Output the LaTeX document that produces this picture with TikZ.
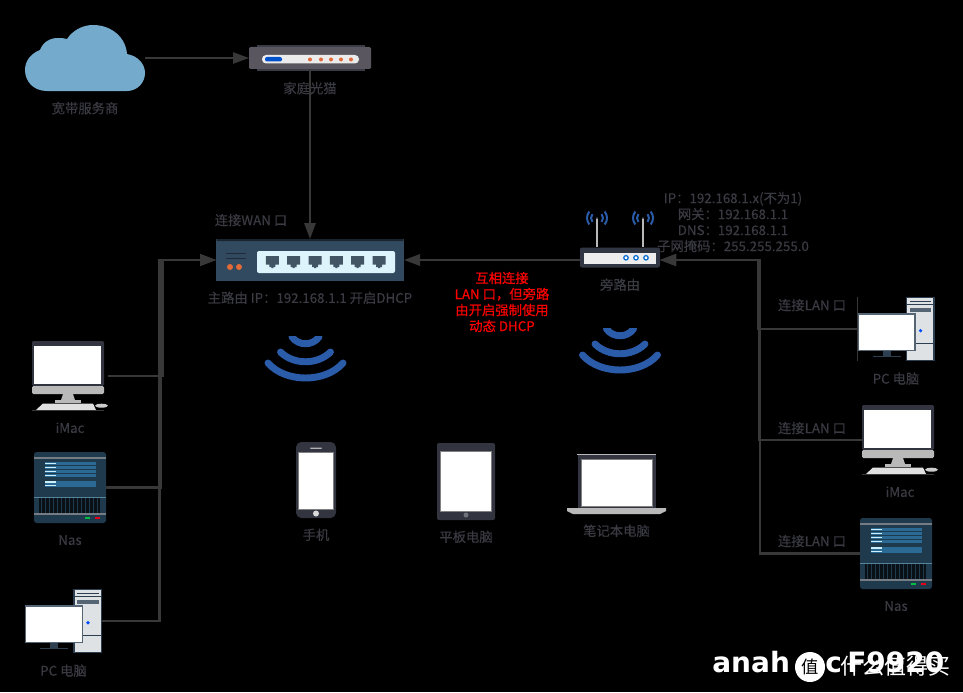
\documentclass[tikz,border=0pt]{standalone}
\usepackage{fontspec}
\setmainfont{Noto Sans CJK SC}[FakeBold=0.35]
\newfontfamily\markfont{DejaVu Sans}
\newfontfamily\markcjk{Noto Sans CJK SC}
\usetikzlibrary{positioning, arrows.meta}
\definecolor{wirecol}{HTML}{383838}
\definecolor{labelcol}{HTML}{3A3A42}
\definecolor{cloudcol}{HTML}{74ABCC}
\definecolor{wavecol}{HTML}{2A5CAA}
\definecolor{bezelcol}{HTML}{32353F}
\definecolor{silvercol}{HTML}{B9B9B9}
\definecolor{nascol}{HTML}{1F3A4C}
\definecolor{slatecol}{HTML}{2C3E50}
\definecolor{routercol}{HTML}{324A5F}
\definecolor{orangecol}{HTML}{E06A38}
\definecolor{modemcol}{HTML}{5A565F}
\definecolor{rowcol}{HTML}{2A6A94}
\tikzset{
    imacicon/.pic={
        \fill[bezelcol, rounded corners=1pt] (0,0) rectangle (72,45);
        \fill[white] (2,5) rectangle (69,42.5);
        \fill[silvercol, rounded corners=1pt] (0,45) rectangle (72,53);
        \fill[silvercol] (31,53) -- (41,53) -- (43,59) -- (29,59) -- cycle;
        \fill[silvercol] (23,59) rectangle (49,62);
        \fill[white!88!black] (11,62.5) -- (61,62.5) -- (64,69) -- (4,69) -- cycle;
        \fill[white!80!black] (69.5,64.7) ellipse (6.5 and 2);
        \draw[wirecol, line width=0.4pt] (0,69.7) -- (72,69.7);
    },
    nasicon/.pic={
        \fill[nascol, rounded corners=2pt] (0,0) rectangle (72,71);
        \fill[black!40!slatecol!60!white] (0,5) rectangle (72,6.5);
        \foreach \y in {10,14,18,22,28.5,32} {
            \fill[rowcol] (11,\y) rectangle (62,\y+3);
            \fill[white!80!cyan] (11,\y+0.9) rectangle (22,\y+2);
        }
        \fill[cyan!40!slatecol] (0,44.5) rectangle (72,45.2);
        \fill[black!70!nascol] (5,46) rectangle (66,61);
        \foreach \i in {0,...,14}
            \fill[nascol] (6.5+4*\i,46) rectangle (7.5+4*\i,61);
        \fill[black!40!slatecol!60!white] (0,61) rectangle (72,62.5);
        \fill[green!50!teal] (51,65.3) rectangle (56,67);
        \fill[red!60!purple] (61,65.3) rectangle (66,67);
    },
    pcicon/.pic={
        \fill[slatecol] (48,0) rectangle (77,64);
        \fill[white!85!slatecol] (49.5,1) rectangle (75.5,62.5);
        \fill[slatecol] (52.3,3.5) rectangle (73.7,5);
        \draw[slatecol, line width=0.6pt] (49.5,7.5) -- (75.5,7.5);
        \fill[slatecol!80!white] (52.3,11) rectangle (73.7,15);
        \draw[slatecol, line width=0.6pt] (49.5,46) -- (75.5,46);
        \fill[blue!70!cyan] (63,33.7) circle (1.8);
        \draw[slatecol!80!white, fill=white, line width=0.9pt] (0.5,17) rectangle (57.5,53.7);
        \fill[slatecol] (25,54) rectangle (33,58.5);
        \fill[slatecol] (15,58.5) rectangle (43,60);
    },
    antennawave/.pic={
        \foreach \r in {6,10} {
            \draw[wavecol, line width=1.5pt] ({\r*cos(40)},{-\r*sin(40)}) arc (-40:40:\r);
            \draw[wavecol, line width=1.5pt] ({-\r*cos(40)},{-\r*sin(40)}) arc (220:140:\r);
        }
        \fill[bezelcol] (0,0) circle (1.2);
    },
    wificon/.pic={
        \begin{scope}
        \clip (-45,-14) rectangle (45,32);
        \draw[wavecol, line width=5.2pt, line cap=round] (-37.5,13) .. controls (-20,33) and (20,33) .. (37.5,13);
        \draw[wavecol, line width=5.2pt, line cap=round] (-25,2) .. controls (-12,15) and (12,15) .. (25,2);
        \draw[wavecol, line width=5.2pt, line cap=round] (-13.5,-13) .. controls (-7,-4) and (7,-4) .. (13.5,-13);
        \end{scope}
    }
}
\begin{document}
\begin{tikzpicture}[
        x=0.75pt, y=-0.75pt,
        boxsize/.style 2 args={minimum width=#1*0.75pt, minimum height=#2*0.75pt, inner sep=0pt, outer sep=0pt},
        imacframe/.style={boxsize={76}{70}},
        nasframe/.style={boxsize={72}{71}},
        pcframe/.style={boxsize={77}{64}},
        devlabel/.style={text=labelcol, font=\fontsize{10pt}{12pt}\selectfont, inner sep=0pt, text height=9pt, text depth=2pt},
        infotext/.style={text=labelcol, font=\fontsize{10pt}{12pt}\selectfont, inner sep=0pt, align=center},
        warntext/.style={text=red, font=\fontsize{10pt}{12pt}\selectfont, inner sep=0pt, align=center},
        markname/.style={text=white, font=\markfont\bfseries\fontsize{21pt}{24pt}\selectfont, inner sep=0pt, anchor=base west},
        link/.style={-{Triangle[length=12pt,width=8.5pt]}, draw=wirecol, line width=1.1pt},
        linkb/.style={link, line width=1.6pt},
        linkc/.style={link, line width=2.2pt}
    ]
    \useasboundingbox (0,0) rectangle (963,692);
    \fill[black] (0,0) rectangle (963,692);

    % top row
    \node[boxsize={120}{66}] (cloud) at (85,58) {};
    \fill[cloudcol] (47,91) .. controls (33,91) and (25,81) .. (25,70)
        .. controls (25,60) and (32,53) .. (40,50)
        .. controls (43,42) and (50,38) .. (58,38)
        .. controls (61,38) and (64,38) .. (67,39)
        .. controls (73,30) and (83,25) .. (93,25)
        .. controls (112,25) and (126,38) .. (127,54)
        .. controls (138,56) and (145,64) .. (145,73)
        .. controls (145,83) and (137,91) .. (127,91) -- cycle;
    \node[boxsize={122}{22}, fill=modemcol, rounded corners=1pt] (modem) at (310,58) {};
    \fill[bezelcol!80!modemcol] (257,45.5) rectangle (365,47);
    \fill[bezelcol!80!modemcol] (257,69) rectangle (365,71);
    \fill[white!92!black, rounded corners=3pt] (262,55) rectangle (359,63.5);
    \fill[blue!60!cyan!80!black, rounded corners=1.5pt] (265,57) rectangle (282,61.5);
    \foreach \x in {310,321,331,341,351}
        \fill[orangecol] (\x,59.5) circle (2);
    \node[devlabel, below=9pt of modem] (modemlabel) {家庭光猫};
    \node[devlabel, below=7.5pt of cloud] (cloudlabel) {宽带服务商};

    % main router
    \node[boxsize={188}{42}, fill=routercol] (mainrouter) at (310,260) {};
    \fill[slatecol!60!black, rounded corners=1pt] (216,239) rectangle (404,241);
    \fill[white!87!cyan, rounded corners=1.5pt] (257,251) rectangle (395,273);
    \foreach \x in {272.3,293.7,315,336.3,357.7,379}
        \fill[routercol!80!gray] (\x-6.5,256) -- (\x+6.5,256) -- (\x+6.5,264.5) -- (\x+3,264.5)
            -- (\x+3,267) -- (\x+1,267) -- (\x+1,268) -- (\x-1,268) -- (\x-1,267) -- (\x-3,267) -- (\x-3,264.5) -- (\x-6.5,264.5) -- cycle;
    \draw[slatecol!70!black, line width=0.7pt] (226,253.5) -- (246,253.5);
    \draw[slatecol!70!black, line width=0.7pt] (226,258) -- (246,258);
    \fill[orangecol] (230,267) circle (3);
    \fill[orangecol] (239,267) circle (3);
    \node[devlabel, below=7.2pt of mainrouter] (mainlabel) {主路由 IP：192.168.1.1 开启DHCP};
    \node[devlabel] (wanlabel) at (251,220.5) {连接WAN 口};

    % side router
    \node[boxsize={80}{20}, fill=bezelcol!80!slatecol, rounded corners=1.5pt] (siderouter) at (620,257.5) {};
    \fill[white!93!black] (584,253) rectangle (656,263.5);
    \foreach \x in {626,636,646}
        \draw[blue!50!cyan!80!black, fill=white, line width=0.9pt] (\x,257.8) circle (2.2);
    \foreach \x in {597,643} {
        \draw[silvercol, line width=1.5pt] (\x,218) -- (\x,247);
        \pic at (\x,218) {antennawave};
    }
    \node[devlabel, below=7.5pt of siderouter] (sidelabel) {旁路由};
    \node[infotext] (sideinfo) at (733,222) {IP：192.168.1.x(不为1)\\网关：192.168.1.1\\DNS：192.168.1.1\\子网掩码：255.255.255.0};
    \node[warntext] (sidewarn) at (502,302) {互相连接\\LAN 口，但旁路\\由开启强制使用\\动态 DHCP};

    \pic at (305.5,350) {wificon};
    \pic at (620,342) {wificon};

    % left devices
    \node[imacframe] (leftimac) at (70,376) {};
    \pic at (leftimac.north west) {imacicon};
    \node[devlabel, below=7.2pt of leftimac] (leftimaclabel) {iMac};
    \node[nasframe] (leftnas) at (70,487.5) {};
    \pic at (leftnas.north west) {nasicon};
    \node[devlabel, below=7.2pt of leftnas] (leftnaslabel) {Nas};
    \node[pcframe] (leftpc) at (63.5,621) {};
    \pic at (leftpc.north west) {pcicon};
    \node[devlabel, below=7.8pt of leftpc] (leftpclabel) {PC 电脑};

    % right devices
    \node[pcframe] (rightpc) at (896,329) {};
    \pic at (rightpc.north west) {pcicon};
    \draw[wirecol, line width=0.4pt] (rightpc.north west) -- (rightpc.south west);
    \node[devlabel, below=7.8pt of rightpc] (rightpclabel) {PC 电脑};
    \node[imacframe] (rightimac) at (900,440) {};
    \pic at (rightimac.north west) {imacicon};
    \node[devlabel, below=7.2pt of rightimac] (rightimaclabel) {iMac};
    \node[nasframe] (rightnas) at (896,553.5) {};
    \pic at (rightnas.north west) {nasicon};
    \node[devlabel, below=7.2pt of rightnas] (rightnaslabel) {Nas};
    \node[devlabel] (lanlabela) at (812,305.5) {连接LAN 口};
    \node[devlabel] (lanlabelb) at (812,428.5) {连接LAN 口};
    \node[devlabel] (lanlabelc) at (812,541.5) {连接LAN 口};

    % wireless devices
    \node[boxsize={40}{76}, fill=bezelcol, rounded corners=4pt] (phone) at (316,480) {};
    \draw[gray, fill=white, line width=0.5pt] (298.5,452.5) rectangle (333.5,509);
    \fill[white!70!black, rounded corners=0.5pt] (310,447.5) rectangle (322,448.8);
    \fill[white!85!black] (316,513.5) circle (3);
    \node[devlabel, below=7.2pt of phone] (phonelabel) {手机};
    \node[boxsize={58}{77}, fill=bezelcol, rounded corners=1.5pt] (tablet) at (466,481.5) {};
    \draw[gray, fill=white, line width=0.5pt] (440.5,451.5) rectangle (491.5,511);
    \fill[bezelcol!70!white] (466,515) circle (2.5);
    \node[devlabel, below=7.2pt of tablet] (tabletlabel) {平板电脑};
    \node[boxsize={99}{60}] (laptop) at (616.5,484) {};
    \fill[bezelcol] (578,455) rectangle (656,509);
    \draw[silvercol, line width=0.5pt] (577,454.5) -- (656,454.5);
    \draw[gray, fill=white, line width=0.4pt] (581.5,459) rectangle (652,506);
    \fill[silvercol] (567,508) -- (666,508) -- (666,511) -- (660,514) -- (573,514) -- (567,511) -- cycle;
    \node[devlabel, below=7.2pt of laptop] (laptoplabel) {笔记本电脑};

    % connectors
    \coordinate (leftbusa) at (159.5,260);
    \coordinate (leftbusb) at (161,260);
    \coordinate (leftbusc) at (163,260);
    \coordinate (rightbusa) at (758.5,260);
    \coordinate (rightbusb) at (759,260);
    \coordinate (rightbusc) at (760,260);
    \draw[link] (cloud) -- (modem);
    \draw[linkb] (modem) -- (mainrouter);
    \draw[linkb] (siderouter.west |- mainrouter) -- (mainrouter.east);
    \draw[linkc] (leftpc.east) -| (leftbusa) -- (mainrouter.west);
    \draw[linkb] (leftnas.east) -| (leftbusb) -- (mainrouter.west);
    \draw[link] (leftimac.east) -| (leftbusc) -- (mainrouter.west);
    \draw[linkc] (rightpc.west) -| (rightbusa) -- (siderouter.east |- mainrouter);
    \draw[linkb] (rightimac.west) -| (rightbusb) -- (siderouter.east |- mainrouter);
    \draw[linkc] (rightnas.west) -| (rightbusc) -- (siderouter.east |- mainrouter);

    % watermark
    \node[markname] (markleft) at (712,672) {anah};
    \node[markname] (markmid) at (825,672) {c};
    \node[markname] (markright) at (847,672) {F9920};
    \node[circle, fill=white, minimum size=22.5pt, inner sep=0pt, text=black, font=\markcjk\fontsize{13pt}{14pt}\selectfont] (markbadge) at (810,667) {值};
    \node[text=white, font=\markcjk\fontsize{16.5pt}{18pt}\selectfont, inner sep=0pt] (markcn) at (895,666) {什么值得买};
    \end{tikzpicture}
\end{document}
